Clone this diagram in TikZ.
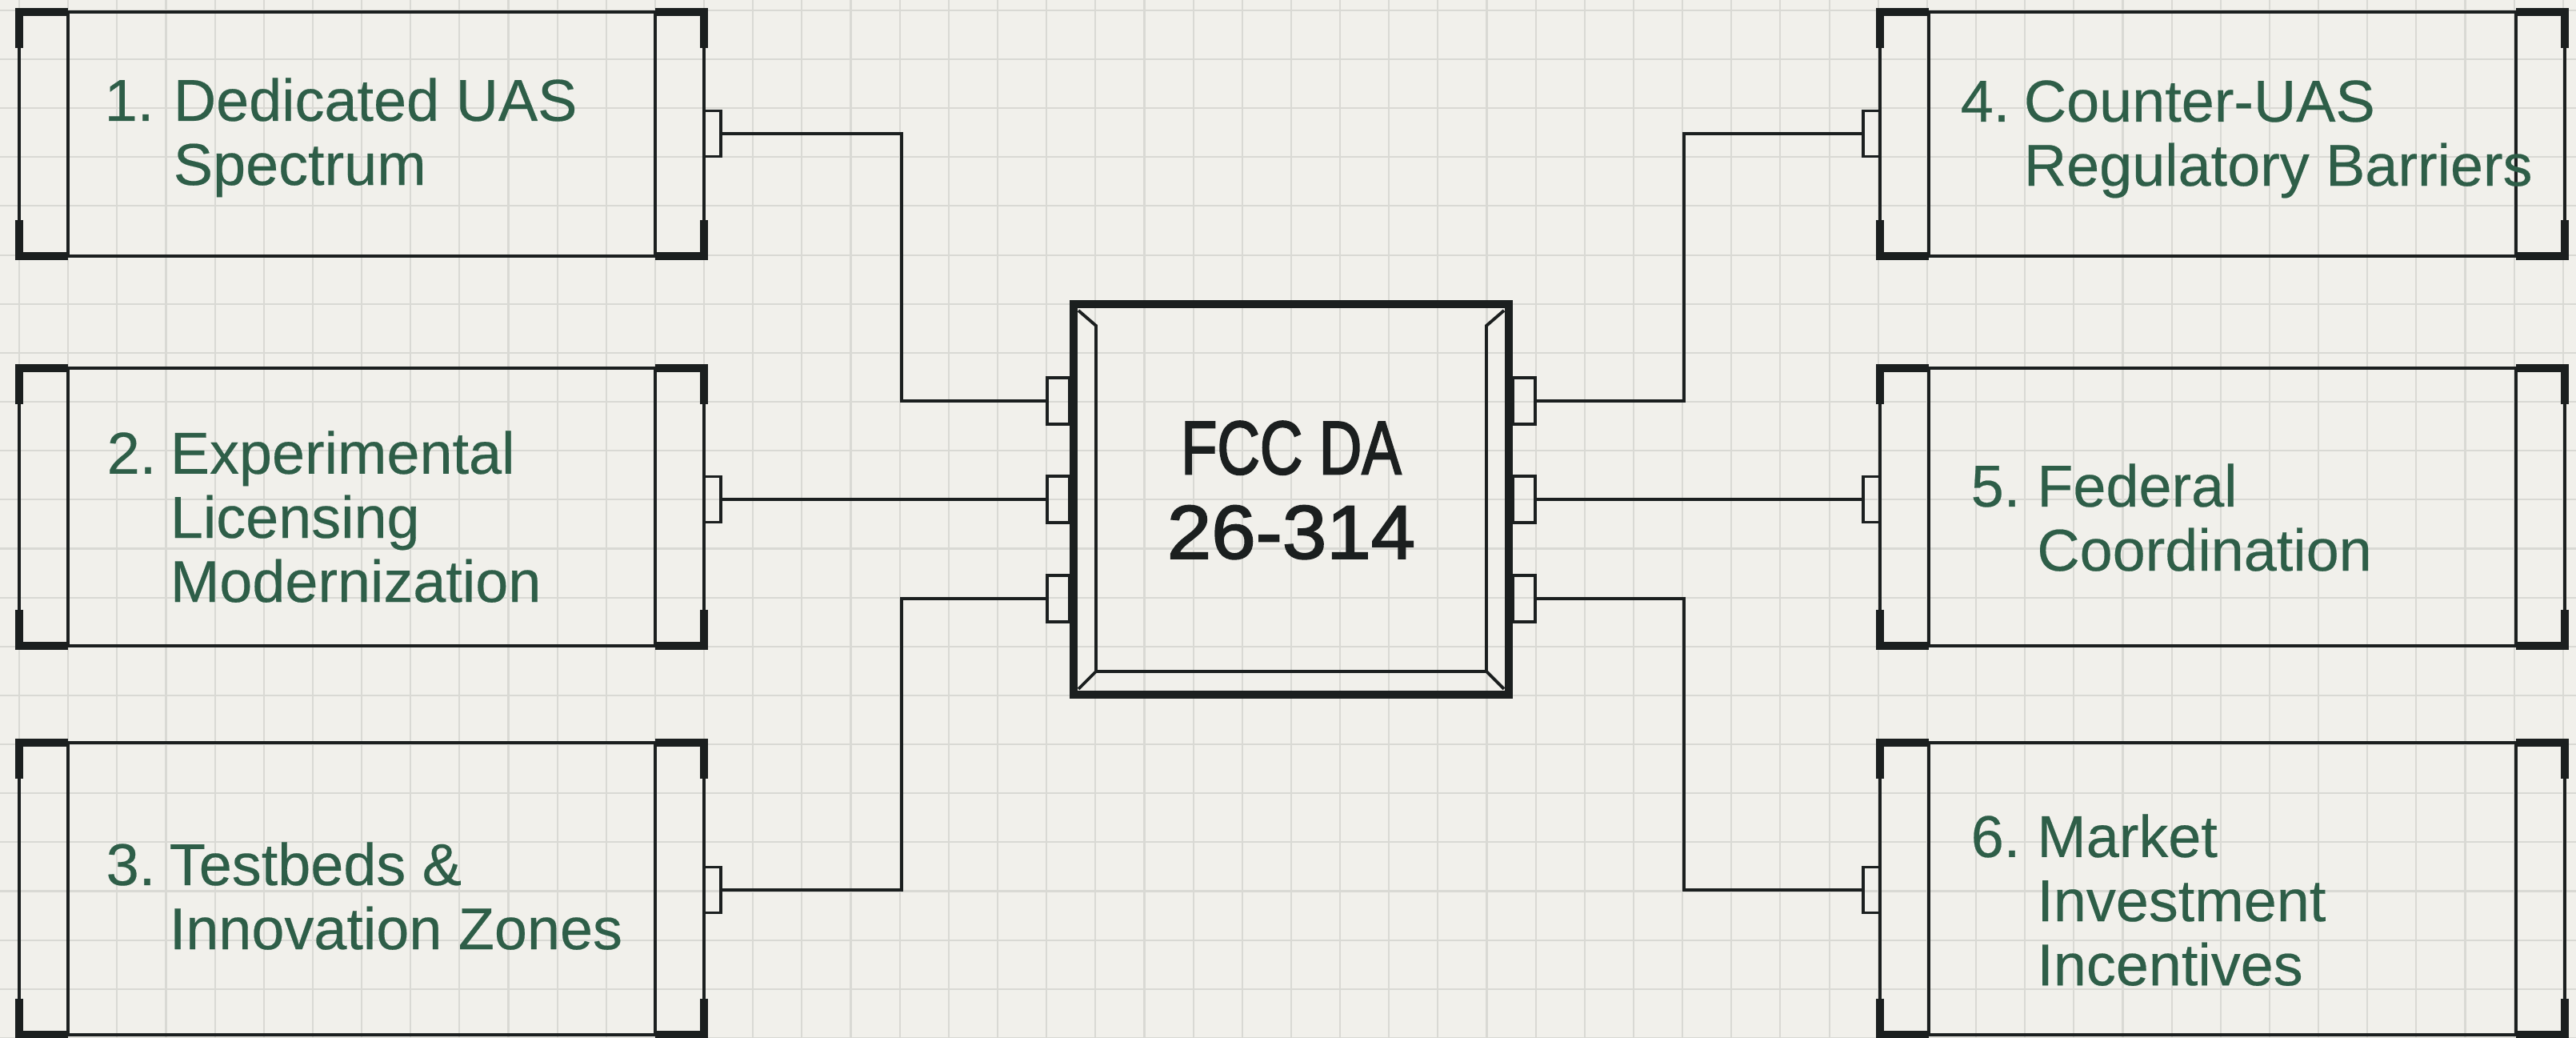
\documentclass[tikz,border=0pt]{standalone}
\usepackage{fontspec}
\setmainfont[FakeBold=0.3]{Liberation Sans}
\newfontfamily\chipfont[FakeStretch=0.78,FakeBold=2.0]{Liberation Sans}
\newfontfamily\chipdigits[FakeStretch=1.05,FakeBold=2.0]{Liberation Sans}
\usetikzlibrary{calc,positioning}
\definecolor{fccInk}{HTML}{1B1F1F}
\definecolor{fccGreen}{HTML}{2E5E48}
\definecolor{fccPaper}{HTML}{F1F0EB}
\definecolor{fccGrid}{HTML}{D9D9D4}

\begin{document}
\begin{tikzpicture}[
  modbox/.style={draw=fccInk,line width=0.9pt,minimum width=8.56cm,inner sep=0pt,outer sep=0pt},
  modtext/.style={anchor=west,inner sep=0pt,text=fccGreen,font=\fontsize{21}{22.8}\selectfont},
  pinbox/.style={draw=fccInk,line width=0.9pt,minimum width=0.21cm,minimum height=0.57cm,inner sep=0pt,outer sep=0pt},
  chippin/.style={pinbox,minimum width=0.28cm,minimum height=0.58cm},
  wire/.style={draw=fccInk,line width=1.2pt,line join=miter},
  thinline/.style={fccInk,line width=0.9pt},
  cornermark/.style={fccInk,line width=2.6pt,line join=miter},
]
  % paper and grid
  \useasboundingbox (0,0) rectangle (32.2,12.97);
  \fill[fccPaper] (0,0) rectangle (32.2,12.97);
  \draw[fccGrid,line width=0.6pt,shift={(0.24,0)},step=0.6115cm] (-0.24,0) grid (31.96,12.97);

  % module boxes
  \node[modbox,minimum height=3.05cm] (b1) at (4.52,11.295) {};
  \node[modbox,minimum height=3.47cm] (b2) at (4.52,6.635) {};
  \node[modbox,minimum height=3.65cm] (b3) at (4.52,1.865) {};
  \node[modbox,minimum height=3.05cm] (b4) at (27.78,11.295) {};
  \node[modbox,minimum height=3.47cm] (b5) at (27.78,6.635) {};
  \node[modbox,minimum height=3.65cm] (b6) at (27.78,1.865) {};
  \foreach \b in {b1,b2,b3,b4,b5,b6}{
    \draw[thinline] ($(\b.north west)+(0.61,0)$) -- ($(\b.south west)+(0.61,0)$);
    \draw[thinline] ($(\b.north east)+(-0.61,0)$) -- ($(\b.south east)+(-0.61,0)$);
    \draw[cornermark] ($(\b.north west)+(0,-0.45)$) -- (\b.north west) -- ++(0.61,0);
    \draw[cornermark] ($(\b.north east)+(0,-0.45)$) -- (\b.north east) -- ++(-0.61,0);
    \draw[cornermark] ($(\b.south west)+(0,0.45)$) -- (\b.south west) -- ++(0.61,0);
    \draw[cornermark] ($(\b.south east)+(0,0.45)$) -- (\b.south east) -- ++(-0.61,0);
  }

  % labels
  \node[modtext] (t1) at (1.30,11.22) {\begin{tabular}{@{}l@{\hspace{7pt}}l@{}}1. & Dedicated UAS\\ & Spectrum\end{tabular}};
  \node[modtext] (t2) at (1.33,6.41) {\begin{tabular}{@{}l@{\hspace{5pt}}l@{}}2. & Experimental\\ & Licensing\\ & Modernization\end{tabular}};
  \node[modtext] (t3) at (1.32,1.67) {\begin{tabular}{@{}l@{\hspace{5pt}}l@{}}3. & Testbeds \&\\ & Innovation Zones\end{tabular}};
  \node[modtext] (t4) at (24.50,11.21) {\begin{tabular}{@{}l@{\hspace{5pt}}l@{}}4. & Counter-UAS\\ & Regulatory Barriers\end{tabular}};
  \node[modtext] (t5) at (24.63,6.40) {\begin{tabular}{@{}l@{\hspace{6pt}}l@{}}5. & Federal\\ & Coordination\end{tabular}};
  \node[modtext] (t6) at (24.63,1.62) {\begin{tabular}{@{}l@{\hspace{6pt}}l@{}}6. & Market\\ & Investment\\ & Incentives\end{tabular}};

  % pins on the modules
  \node[pinbox,anchor=west] (p1) at (8.80,11.30) {};
  \node[pinbox,anchor=west] (p2) at (8.80,6.73) {};
  \node[pinbox,anchor=west] (p3) at (8.80,1.85) {};
  \node[pinbox,anchor=east] (p4) at (23.50,11.30) {};
  \node[pinbox,anchor=east] (p5) at (23.50,6.73) {};
  \node[pinbox,anchor=east] (p6) at (23.50,1.85) {};

  % the chip
  \node[chippin,anchor=east] (cl1) at (13.37,7.96) {};
  \node[chippin,anchor=east] (cl2) at (13.37,6.73) {};
  \node[chippin,anchor=east] (cl3) at (13.37,5.49) {};
  \node[chippin,anchor=west] (cr1) at (18.91,7.96) {};
  \node[chippin,anchor=west] (cr2) at (18.91,6.73) {};
  \node[chippin,anchor=west] (cr3) at (18.91,5.49) {};
  \node[draw=fccInk,line width=2.8pt,minimum width=5.44cm,minimum height=4.88cm,
        inner sep=0pt,outer sep=0pt,align=center,text=fccInk,text depth=0.24cm,
        font=\fontsize{27}{30}\selectfont] (chip) at (16.14,6.73) {\chipfont FCC DA\\\chipdigits 26-314};
  \draw[fccInk,line width=1.1pt,line join=miter]
    ($(chip.north west)+(0.06,-0.08)$) -- ($(chip.north west)+(0.28,-0.27)$)
    -- ($(chip.south west)+(0.28,0.29)$) -- ($(chip.south east)+(-0.28,0.29)$)
    -- ($(chip.north east)+(-0.28,-0.27)$) -- ($(chip.north east)+(-0.06,-0.08)$);
  \draw[fccInk,line width=1.1pt] ($(chip.south west)+(0.28,0.29)$) -- ($(chip.south west)+(0.06,0.07)$);
  \draw[fccInk,line width=1.1pt] ($(chip.south east)+(-0.28,0.29)$) -- ($(chip.south east)+(-0.06,0.07)$);

  % wiring
  \coordinate (jl) at (11.27,0);
  \coordinate (jr) at (21.05,0);
  \draw[wire] (p1.east) -- (p1.east -| jl) |- (cl1.west);
  \draw[wire] (p2.east) -- (cl2.west);
  \draw[wire] (p3.east) -- (p3.east -| jl) |- (cl3.west);
  \draw[wire] (cr1.east) -- (cr1.east -| jr) |- (p4.west);
  \draw[wire] (cr2.east) -- (p5.west);
  \draw[wire] (cr3.east) -- (cr3.east -| jr) |- (p6.west);
\end{tikzpicture}
\end{document}
